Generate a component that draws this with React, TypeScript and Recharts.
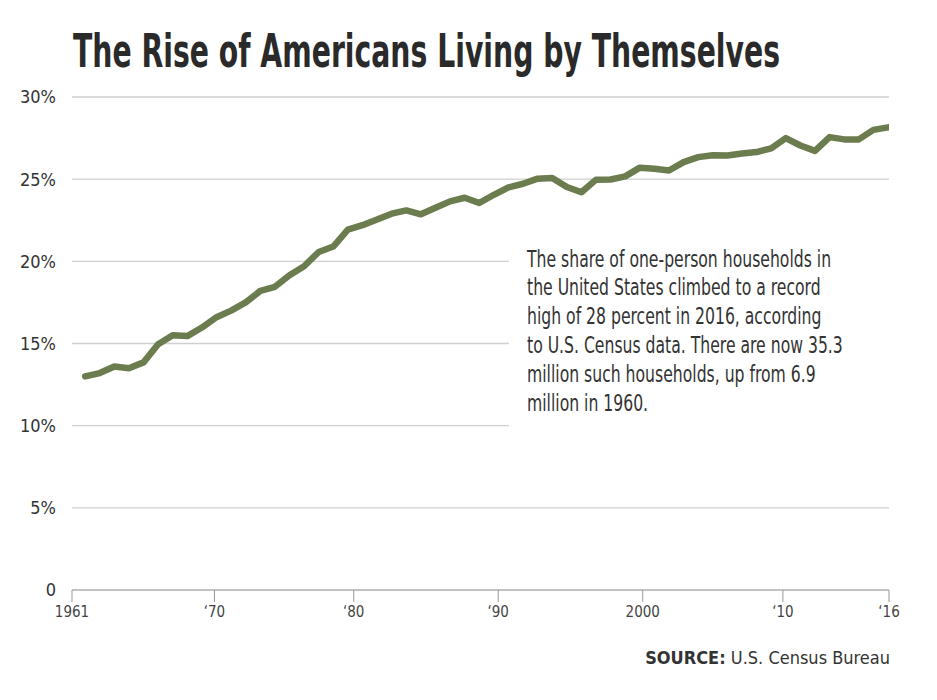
import { LineChart, Line, XAxis, YAxis, CartesianGrid, ReferenceArea } from "recharts";

const years = [
  1961, 1962, 1963, 1964, 1965, 1966, 1967, 1968, 1969, 1970,
  1971, 1972, 1973, 1974, 1975, 1976, 1977, 1978, 1979, 1980,
  1981, 1982, 1983, 1984, 1985, 1986, 1987, 1988, 1989, 1990,
  1991, 1992, 1993, 1994, 1995, 1996, 1997, 1998, 1999, 2000,
  2001, 2002, 2003, 2004, 2005, 2006, 2007, 2008, 2009, 2010,
  2011, 2012, 2013, 2014, 2015, 2016,
];

// share of one-person households, %
const share = [
  13.0, 13.2, 13.6, 13.5, 13.85, 14.95, 15.5, 15.45, 15.97, 16.6,
  17.0, 17.5, 18.2, 18.45, 19.15, 19.7, 20.57, 20.9, 21.93, 22.2,
  22.55, 22.9, 23.1, 22.86, 23.26, 23.65, 23.87, 23.55, 24.05, 24.5,
  24.72, 25.03, 25.07, 24.52, 24.2, 24.97, 24.98, 25.17, 25.7, 25.63,
  25.53, 26.04, 26.34, 26.46, 26.44, 26.56, 26.65, 26.87, 27.5, 27.05,
  26.72, 27.56, 27.42, 27.42, 28.0, 28.15,
];

const xTicks = [1960.1, 1969.86, 1979.4, 1989.3, 1999.2, 2008.8, 2016.07];
const xTickLabels = ["1961", "\u201870", "\u201880", "\u201890", "2000", "\u201810", "\u201816"];
const yTicks = [0, 5, 10, 15, 20, 25, 30];
const yTickLabels = ["0", "5%", "10%", "15%", "20%", "25%", "30%"];

const noteLines = [
  "The share of one-person households in",
  "the United States climbed to a record",
  "high of 28 percent in 2016, according",
  "to U.S. Census data. There are now 35.3",
  "million such households, up from 6.9",
  "million in 1960.",
];

const data = years.map((year, i) => ({ year, share: share[i] }));

const font = "'Liberation Sans Narrow', 'DejaVu Sans Condensed', 'Roboto Condensed', sans-serif";

export default function App() {
  return (
    <div style={{ position: "absolute", left: 0, top: 0, width: 937, height: 700, background: "#fff" }}>
      <LineChart width={937} height={700} data={data} margin={{ top: 97, right: 48, bottom: 80, left: 12 }}>
        <CartesianGrid vertical={false} stroke="#cfcfcf" strokeWidth={1.3} />
        <ReferenceArea x1={1990.03} x2={2016.07} y1={9} y2={21.6} fill="#fff" fillOpacity={1} stroke="none" />
        <XAxis
          dataKey="year"
          type="number"
          domain={[1960.1, 2016.07]}
          allowDataOverflow
          ticks={xTicks}
          interval={0}
          tickFormatter={(v: number) => xTickLabels[xTicks.indexOf(v)]}
          tick={{ fill: "#444", fontSize: 15, fontFamily: font }}
          tickSize={12}
          tickMargin={4}
          tickLine={{ stroke: "#999" }}
          axisLine={{ stroke: "#bbb", strokeWidth: 1.3 }}
          height={30}
        />
        <YAxis
          type="number"
          domain={[0, 30]}
          ticks={yTicks}
          interval={0}
          tickFormatter={(v: number) => yTickLabels[yTicks.indexOf(v)]}
          tick={{ fill: "#333", fontSize: 18, fontFamily: font }}
          axisLine={false}
          tickLine={false}
          tickSize={0}
          tickMargin={16}
          width={60}
        />
        <Line
          type="linear"
          dataKey="share"
          stroke="#6b7d4e"
          strokeWidth={6.5}
          strokeLinejoin="round"
          strokeLinecap="round"
          dot={false}
          activeDot={false}
          isAnimationActive={false}
        />
      </LineChart>
      <svg width={937} height={700} style={{ position: "absolute", left: 0, top: 0, pointerEvents: "none" }}>
        {/* condensed look: smaller type stretched vertically */}
        <g transform="translate(73,66.5) scale(1,1.48)">
          <text x={0} y={0} fontFamily={font} fontWeight="bold" fontSize={31} fill="#2a2a2a" textLength={707} lengthAdjust="spacingAndGlyphs">
            The Rise of Americans Living by Themselves
          </text>
        </g>
        {noteLines.map((line, i) => (
          <g key={i} transform={`translate(527,${266.5 + i * 28.9}) scale(1,1.32)`}>
            <text x={0} y={0} fontFamily={font} fontSize={17.4} fill="#333">
              {line}
            </text>
          </g>
        ))}
        <text x={890} y={664} textAnchor="end" fontFamily={font} fontSize={18} fill="#333">
          <tspan fontWeight="bold">SOURCE:</tspan> U.S. Census Bureau
        </text>
      </svg>
    </div>
  );
}
